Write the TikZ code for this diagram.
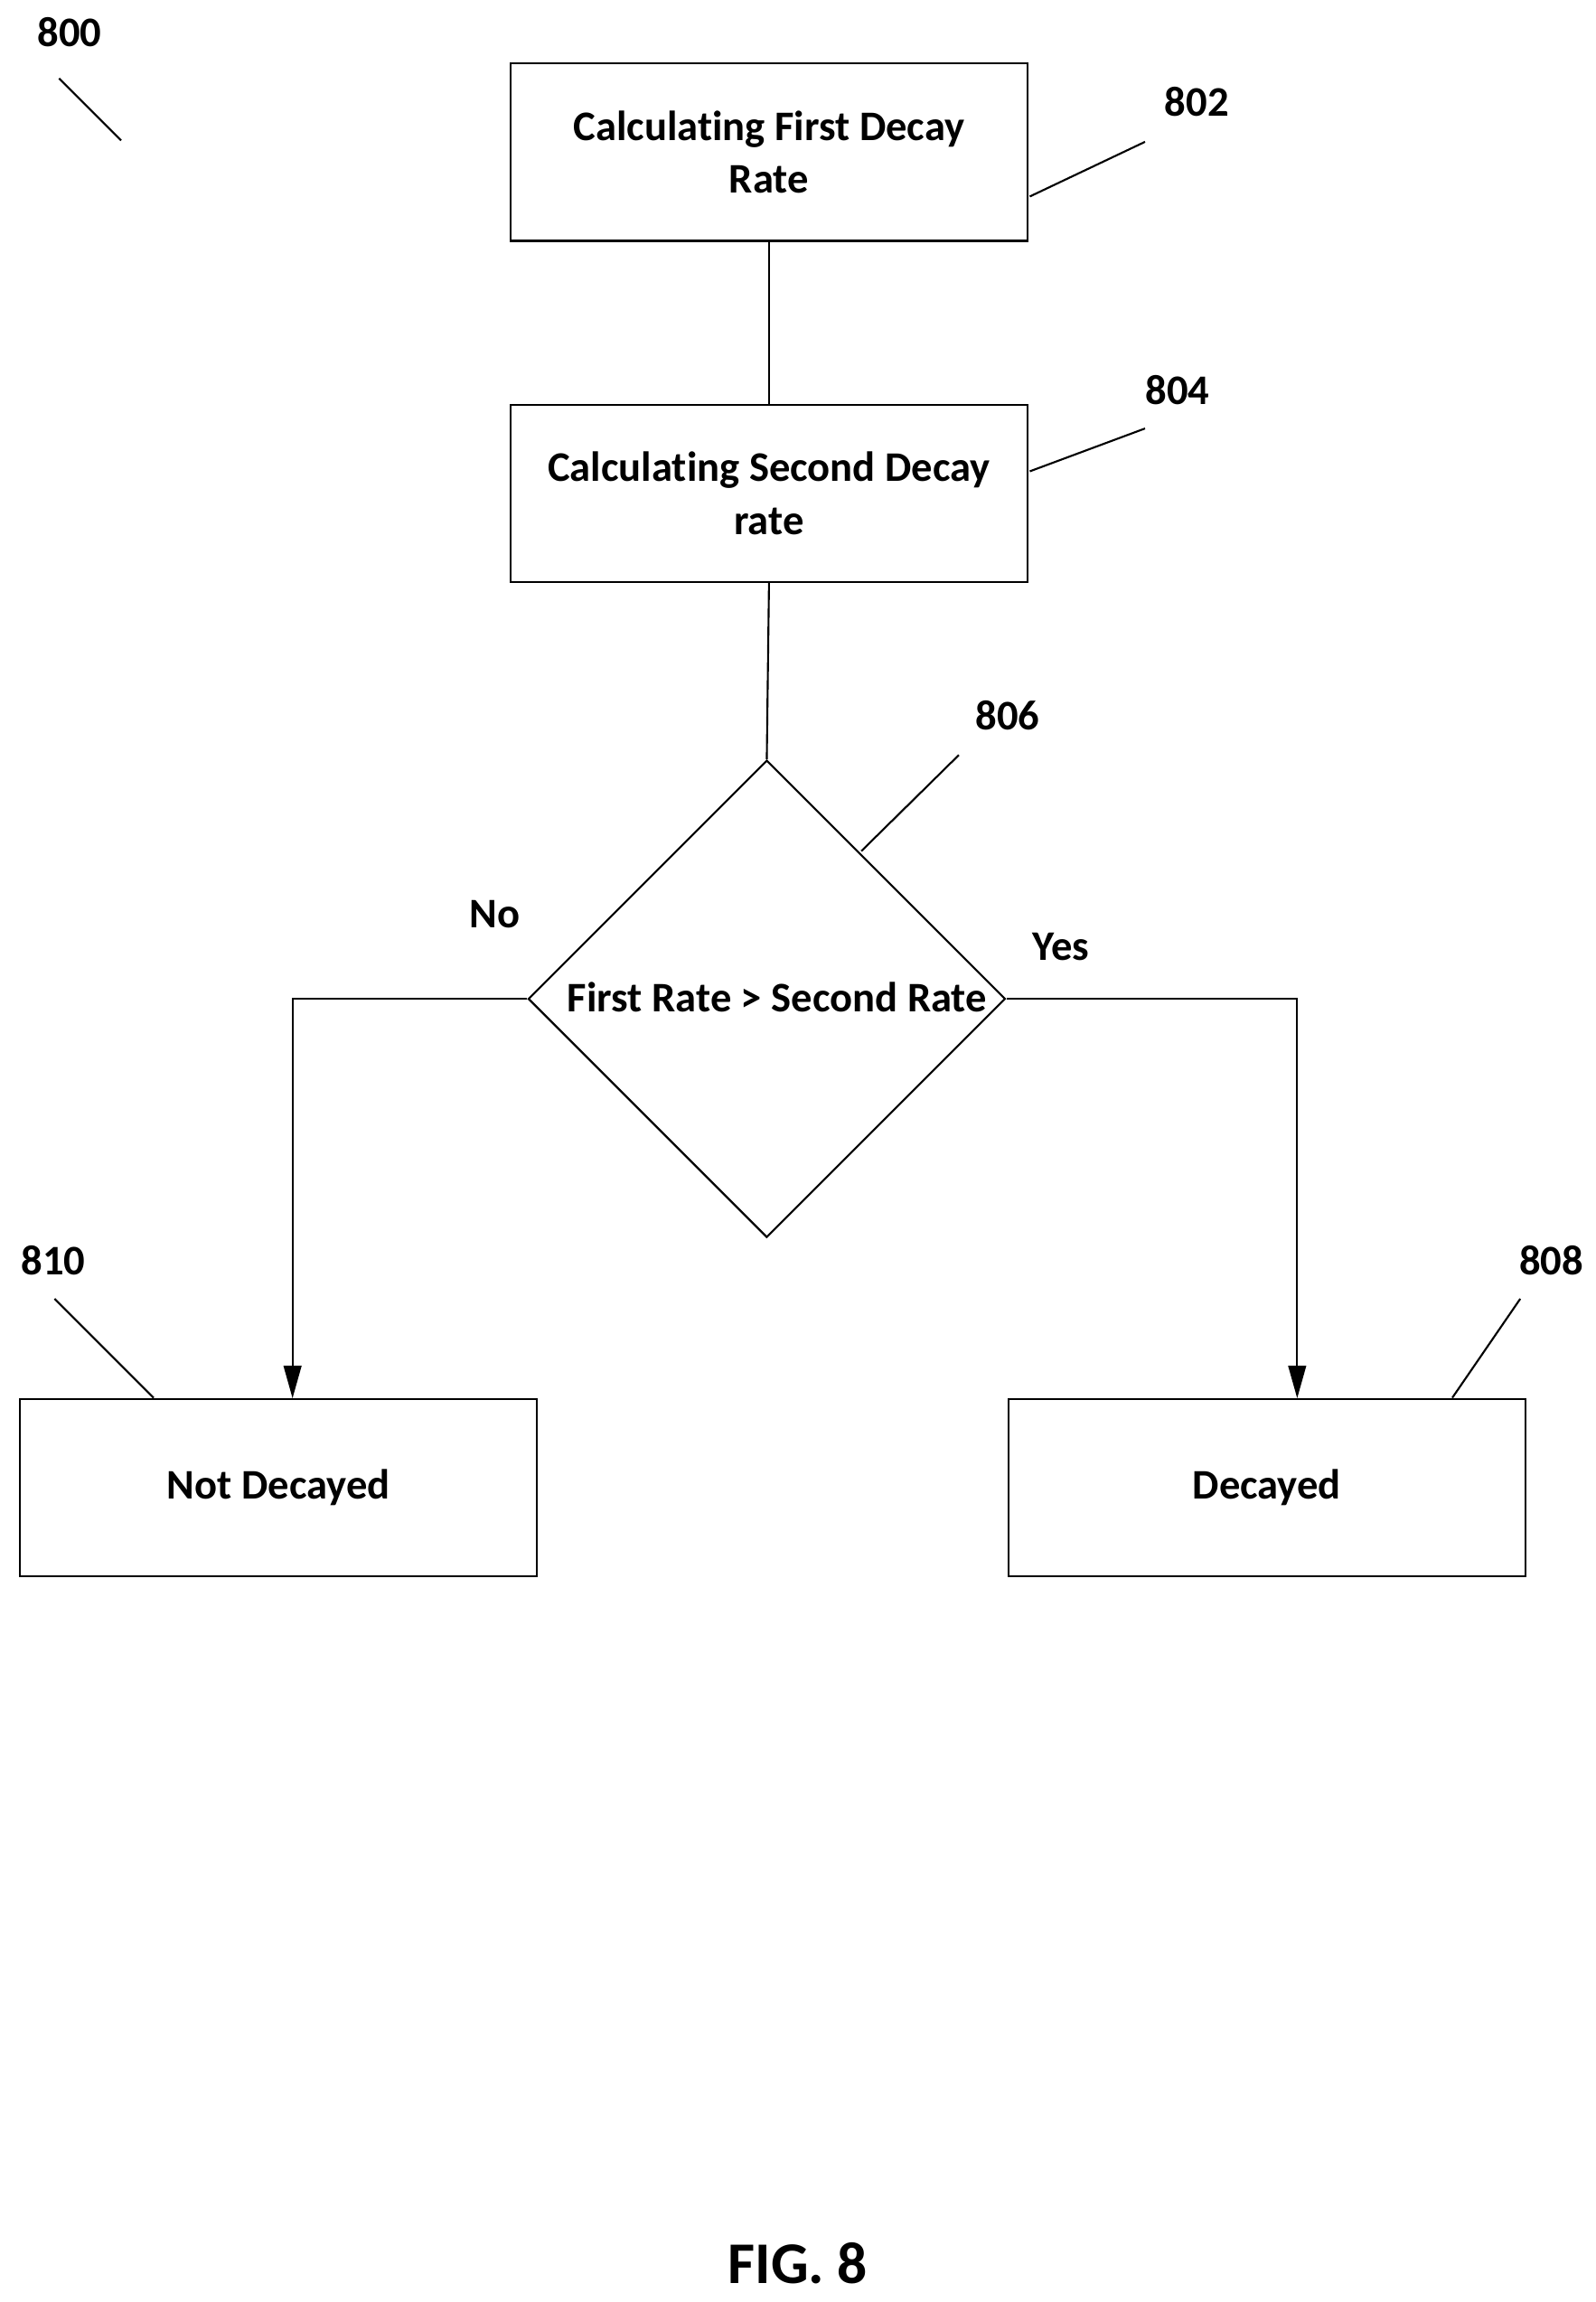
\documentclass[tikz,border=0pt]{standalone}
\usepackage{fontspec}
\setmainfont{Carlito}[RawFeature={-liga}]
\usetikzlibrary{shapes.geometric,arrows.meta}
\begin{document}
\begin{tikzpicture}[x=1pt,y=-1pt,
  every node/.style={font=\fontsize{28.5}{34}\selectfont\bfseries},
  box/.style={draw,line width=1.3pt,minimum width=350pt,minimum height=120pt,align=center,inner sep=0pt},
  ln/.style={line width=1.3pt},
  arr/.style={ln,-{Triangle[length=22pt,width=12pt]}},
  lbl/.style={inner sep=0pt}]
\useasboundingbox (0,0) rectangle (1080,1558);
\node[box] (b802) at (520.5,103) {Calculating First Decay\\[2pt]Rate};
\node[box] (b804) at (520.5,334) {Calculating Second Decay\\[2pt]rate};
\node[draw,line width=1.3pt,diamond,aspect=1,minimum width=323pt,minimum height=323pt,inner sep=0pt] (d) at (519,676) {};
\node[lbl] (dt) at (526,675) {First Rate > Second Rate};
\node[box] (b810) at (188.5,1007) {Not Decayed};
\node[box] (b808) at (857.5,1007) {Decayed};
\draw[ln] (b802.south) -- (b804.north);
\draw[ln] (b804.south) -- (d.north);
\coordinate (nl) at (198,676);
\coordinate (nr) at (878,676);
\draw[arr] (d.west) -- (nl) -- (nl |- b810.north);
\draw[arr] (d.east) -- (nr) -- (nr |- b808.north);
\node[lbl] (no) at (335,619) {No};
\node[lbl] (yes) at (718,641) {Yes};
\node[lbl] (l800) at (47,22) {800};
\node[lbl] (l802) at (810,69) {802};
\node[lbl] (l804) at (797,264) {804};
\node[lbl] (l806) at (682,484) {806};
\node[lbl] (l810) at (36,853) {810};
\node[lbl] (l808) at (1050,853) {808};
\coordinate (a1) at (40,53); \coordinate (a2) at (82,95);
\coordinate (c1) at (697,133); \coordinate (c2) at (775,96);
\coordinate (e1) at (697,319); \coordinate (e2) at (775,290);
\coordinate (f1) at (583,576); \coordinate (f2) at (649,511);
\coordinate (g1) at (37,879); \coordinate (g2) at (104,946);
\coordinate (h1) at (983,946); \coordinate (h2) at (1029,879);
\draw[ln] (a1)--(a2); \draw[ln] (c1)--(c2); \draw[ln] (e1)--(e2);
\draw[ln] (f1)--(f2); \draw[ln] (g1)--(g2); \draw[ln] (h1)--(h2);
\node[lbl,font=\fontsize{40}{48}\selectfont\bfseries] (fig) at (540,1532) {FIG. 8};
\end{tikzpicture}
\end{document}
